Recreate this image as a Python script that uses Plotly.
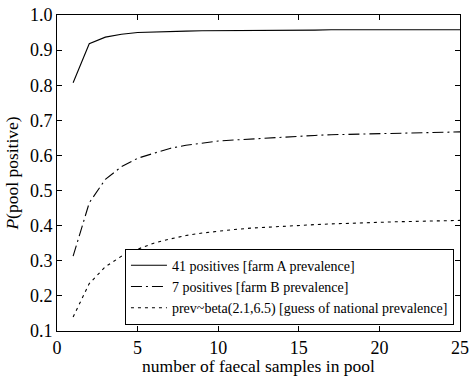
import plotly.graph_objects as go

pool_size = list(range(1, 26))

farm_a = [0.807, 0.918, 0.937, 0.945, 0.950, 0.952, 0.953, 0.954, 0.955, 0.955,
          0.956, 0.956, 0.957, 0.957, 0.957, 0.957, 0.958, 0.958, 0.958, 0.958,
          0.958, 0.958, 0.958, 0.958, 0.958]
farm_b = [0.313, 0.465, 0.532, 0.568, 0.592, 0.607, 0.620, 0.629, 0.636, 0.641,
          0.644, 0.647, 0.650, 0.652, 0.655, 0.657, 0.659, 0.660, 0.661, 0.662,
          0.663, 0.664, 0.665, 0.666, 0.667]
national = [0.140, 0.235, 0.283, 0.313, 0.333, 0.350, 0.362, 0.372, 0.379, 0.385,
            0.389, 0.393, 0.396, 0.399, 0.401, 0.403, 0.405, 0.407, 0.408, 0.410,
            0.411, 0.412, 0.413, 0.414, 0.415]

names = ["41 positives [farm A prevalence]",
         "7 positives [farm B prevalence]",
         "prev~beta(2.1,6.5) [guess of national prevalence]"]

FONT = "Liberation Serif"

fig = go.Figure()
fig.add_trace(go.Scatter(x=pool_size, y=farm_a, mode="lines", name=names[0],
                         line=dict(color="black", width=1.1)))
fig.add_trace(go.Scatter(x=pool_size, y=farm_b, mode="lines", name=names[1],
                         line=dict(color="black", width=1.1, dash="11px,4px,2px,4px")))
fig.add_trace(go.Scatter(x=pool_size, y=national, mode="lines", name=names[2],
                         line=dict(color="black", width=1.1, dash="3px,4px")))

axis_common = dict(
    showline=True, linecolor="black", linewidth=1, mirror="ticks",
    ticks="inside", ticklen=5, tickcolor="black", tickwidth=1,
    showgrid=False, zeroline=False,
    tickfont=dict(family=FONT, size=18, color="black"),
)

fig.update_xaxes(range=[0, 25], dtick=5, tick0=0,
                 title=dict(text="number of faecal samples in pool",
                            font=dict(family=FONT, size=17.5, color="black"), standoff=4),
                 **axis_common)
fig.update_yaxes(range=[0.1, 1.0], dtick=0.1, tick0=0.1, tickformat=".1f",
                 title=dict(text="<i>P</i>(pool positive)",
                            font=dict(family=FONT, size=17.5, color="black"), standoff=6),
                 **axis_common)

fig.update_layout(
    width=472, height=376,
    margin=dict(l=57, r=12, t=15, b=44.5, autoexpand=False),
    paper_bgcolor="white", plot_bgcolor="white",
    font=dict(family=FONT, color="black"),
    showlegend=True,
    legend=dict(x=0.985, y=0.02, xanchor="right", yanchor="bottom",
                bgcolor="white", bordercolor="black", borderwidth=1,
                font=dict(family=FONT, size=14, color="black"),
                tracegroupgap=0, itemwidth=36),
)

fig.write_html("out.html", config={"displayModeBar": False},
               post_script="document.body.style.margin='0';document.body.style.padding='0';")
